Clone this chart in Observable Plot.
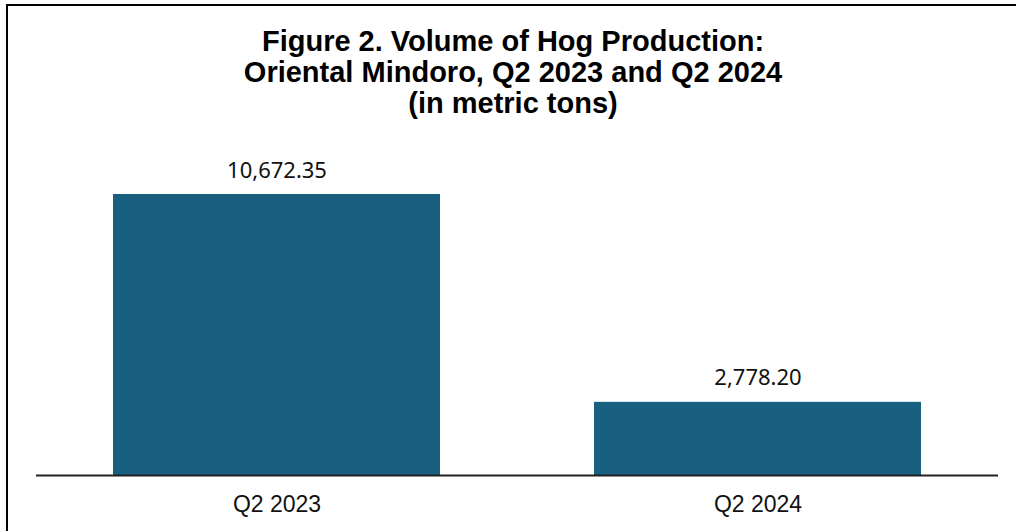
<!DOCTYPE html>
<html>
<head>
<meta charset="utf-8">
<script src="https://cdn.jsdelivr.net/npm/d3@7"></script>
<script src="https://cdn.jsdelivr.net/npm/@observablehq/plot@0.6"></script>
<style>
  html, body { margin: 0; padding: 0; background: #fff; overflow: hidden; }
  #wrap { position: relative; width: 1016px; height: 531px; overflow: hidden; }
  #frame { position: absolute; left: 6px; top: 4px; width: 1200px; height: 700px;
           border-left: 2px solid #000; border-top: 2px solid #000; pointer-events: none; }
  #title { position: absolute; left: 0; top: 26px; width: 1026px; text-align: center;
           font-family: "Liberation Sans", Arial, sans-serif; font-weight: bold;
           font-size: 29px; line-height: 31px; color: #000; }
  #chart { position: absolute; left: 0; top: 121px; }
</style>
</head>
<body>
<div id="wrap">
  <div id="frame"></div>
  <div id="title">Figure 2. Volume of Hog Production:<br>Oriental Mindoro, Q2 2023 and Q2 2024<br>(in metric tons)</div>
  <div id="chart"></div>
</div>
<script>
const categories = ["Q2 2023", "Q2 2024"];
const values = [10672.35, 2778.20];
const valueLabels = ["10,672.35", "2,778.20"];

const data = categories.map((c, i) => ({category: c, value: values[i], label: valueLabels[i]}));

const chart = Plot.plot({
  width: 1016,
  height: 410,
  marginLeft: 36,
  marginRight: 18,
  marginTop: 38,
  marginBottom: 56,
  x: {domain: categories, paddingInner: 0.32, paddingOuter: 0.16},
  y: {domain: [0, 12000], axis: null},
  marks: [
    Plot.barY(data, {x: "category", y: "value", fill: "#185f80"}),
    Plot.ruleY([0], {stroke: "#222", strokeWidth: 2}),
    Plot.text(data, {x: "category", y: "value", text: "label", dy: -24,
      fontSize: 22, fontFamily: "'Noto Sans', sans-serif", fill: "#111"}),
    Plot.axisX({tickSize: 0, tickPadding: 20, fontSize: 23,
      fontFamily: "'Liberation Sans', Arial, sans-serif", fill: "#111", label: null})
  ]
});
document.getElementById("chart").appendChild(chart);
</script>
</body>
</html>
